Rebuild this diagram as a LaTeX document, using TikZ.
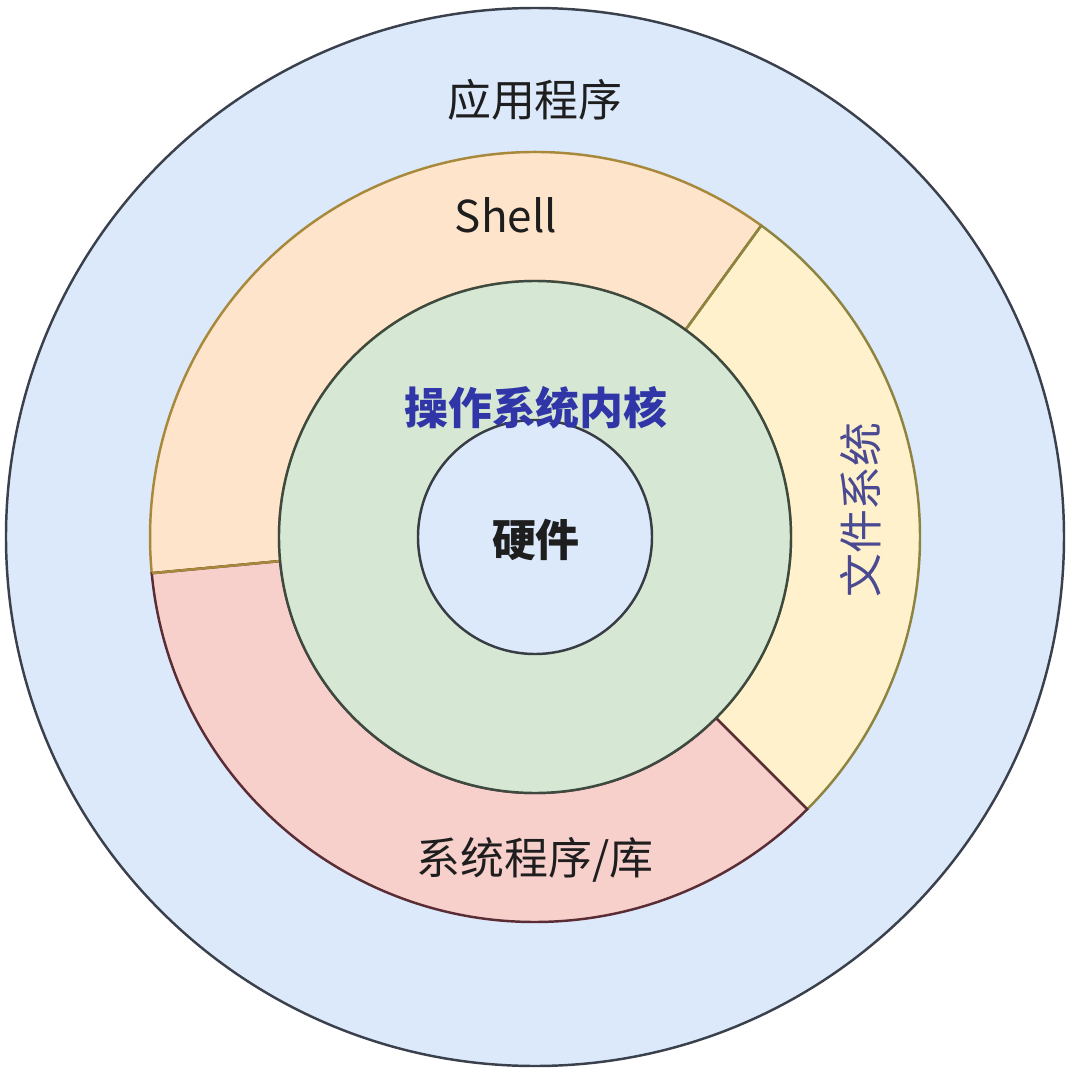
\documentclass[tikz,border=0pt]{standalone}
\usepackage{fontspec}
\setmainfont{Noto Sans CJK SC}
\usetikzlibrary{calc}
\definecolor{appfill}{HTML}{DCE9FB}
\definecolor{appedge}{HTML}{3A404C}
\definecolor{shellfill}{HTML}{FEE4CA}
\definecolor{shelledge}{HTML}{A8883A}
\definecolor{fsfill}{HTML}{FFF1CC}
\definecolor{fsedge}{HTML}{8E8440}
\definecolor{libfill}{HTML}{F7CFCB}
\definecolor{libedge}{HTML}{5A2C34}
\definecolor{kernfill}{HTML}{D6E8D3}
\definecolor{kernedge}{HTML}{3E4A40}
\definecolor{hwfill}{HTML}{DCE9FB}
\definecolor{hwedge}{HTML}{383C44}
\definecolor{kerntext}{HTML}{3036A8}
\definecolor{fstext}{HTML}{4A4A92}
\definecolor{txt}{HTML}{1E1E1E}

\begin{document}
\begin{tikzpicture}[line width=0.7pt,
  lbl/.style={font=\fontsize{12.5}{15}\selectfont, text=txt, inner sep=0pt}]
\useasboundingbox (-5.35,-5.45) rectangle (5.45,5.37);
\coordinate (O) at (0,0);
% outer layer
\draw[draw=appedge, fill=appfill] (O) circle (5.29);
% middle ring: three sectors
\foreach \a/\b/\col/\edge in {54/185.4/shellfill/shelledge,-45/54/fsfill/fsedge,185.4/315/libfill/libedge}{
  \filldraw[fill=\col, draw=\edge] (\a:3.85) arc[start angle=\a, end angle=\b, radius=3.85]
    -- (\b:2.56) arc[start angle=\b, end angle=\a, radius=2.56] -- cycle;
}
\foreach \t/\edge in {54/fsedge,185.4/shelledge,-45/libedge}{
  \draw[\edge] (\t:2.56) -- (\t:3.85);
}
% kernel and hardware
\draw[draw=kernedge, fill=kernfill] (O) circle (2.56);
\draw[draw=hwedge, fill=hwfill] (O) circle (1.17);
% labels
\node[lbl] (app) at (0,4.37) {应用程序};
\node[lbl] (shell) at (-0.29,3.22) {Shell};
\node[lbl, font=\fontsize{12.5}{15}\selectfont\bfseries, text=kerntext] (kern) at (0.01,1.29) {操作系统内核};
\node[lbl, font=\fontsize{12.5}{15}\selectfont\bfseries] (hw) at (0.01,-0.03) {硬件};
\node[lbl, text=fstext, rotate=90] (fs) at (3.26,0.27) {文件系统};
\node[lbl] (lib) at (0,-3.23) {系统程序/库};
\end{tikzpicture}
\end{document}
